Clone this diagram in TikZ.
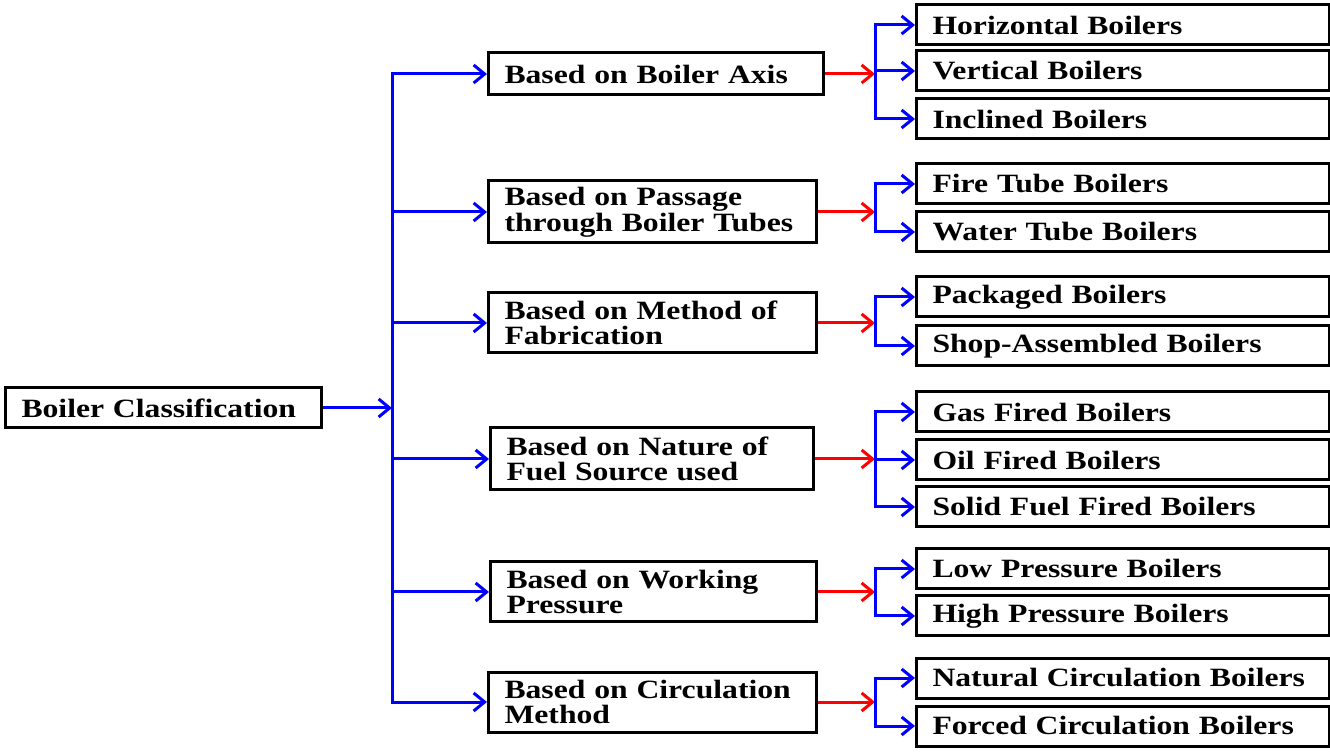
\documentclass[tikz,border=0pt]{standalone}
\usepackage{fontspec}
\setmainfont{Liberation Serif}[FakeStretch=1.2]
\usetikzlibrary{arrows.meta}
\begin{document}
\begin{tikzpicture}[x=0.5pt,y=-0.5pt,
  box/.style={draw=black, line width=1.5pt, rectangle, inner xsep=8pt, inner ysep=0pt,
    font=\fontsize{13.2}{12.8}\selectfont\bfseries, align=left, anchor=west},
  rootbox/.style={box, text width=142pt, minimum height=20pt},
  midbox/.style={box, text width=148pt},
  leafbox/.style={box, text width=190.5pt, minimum height=20pt},
  barrow/.style={draw=blue, line width=1.5pt, -{Straight Barb[length=5.5pt,width=9pt,line width=1.5pt]}},
  rarrow/.style={draw=red, line width=1.5pt, -{Straight Barb[length=5.5pt,width=9pt,line width=1.5pt]}},
  bline/.style={draw=blue, line width=1.5pt}
]
\useasboundingbox (0,0) rectangle (1330,754);

\node[rootbox] (root) at (4,408) {Boiler Classification};

\node[midbox, text width=151.5pt, minimum height=21pt] (m1) at (487,74) {Based on Boiler Axis};
\node[midbox, minimum height=31pt] (m2) at (487,212) {Based on Passage\\through Boiler Tubes};
\node[midbox, minimum height=30pt] (m3) at (487,323) {Based on Method of\\Fabrication};
\node[midbox, text width=145.5pt, minimum height=31pt] (m4) at (489,459) {Based on Nature of\\Fuel Source used};
\node[midbox, text width=147pt, minimum height=30pt] (m5) at (489,592) {Based on Working\\Pressure};
\node[midbox, minimum height=30pt] (m6) at (487,702) {Based on Circulation\\Method};

\node[leafbox] (l1) at (915,25) {Horizontal Boilers};
\node[leafbox] (l2) at (915,71) {Vertical Boilers};
\node[leafbox] (l3) at (915,119) {Inclined Boilers};
\node[leafbox] (l4) at (915,184) {Fire Tube Boilers};
\node[leafbox] (l5) at (915,232) {Water Tube Boilers};
\node[leafbox] (l6) at (915,297) {Packaged Boilers};
\node[leafbox] (l7) at (915,346) {Shop-Assembled Boilers};
\node[leafbox] (l8) at (915,412) {Gas Fired Boilers};
\node[leafbox] (l9) at (915,460) {Oil Fired Boilers};
\node[leafbox] (l10) at (915,507) {Solid Fuel Fired Boilers};
\node[leafbox] (l11) at (915,569) {Low Pressure Boilers};
\node[leafbox] (l12) at (915,616) {High Pressure Boilers};
\node[leafbox] (l13) at (915,678) {Natural Circulation Boilers};
\node[leafbox] (l14) at (915,726) {Forced Circulation Boilers};

% trunk
\coordinate (trunk) at (392,408);
\coordinate (ttop) at (392,74);
\coordinate (tbot) at (392,702);
\draw[bline] (ttop) -- (tbot);
\draw[barrow] (root.east) -- (trunk);
\foreach \m in {m1,m2,m3,m4,m5,m6} \draw[barrow] (trunk) |- (\m.west);

% junctions
\coordinate (j1) at (875,74);
\coordinate (j2) at (875,212);
\coordinate (j3) at (875,323);
\coordinate (j4) at (875,459);
\coordinate (j5) at (875,592);
\coordinate (j6) at (875,702);
\foreach \m/\j in {m1/j1,m2/j2,m3/j3,m4/j4,m5/j5,m6/j6} \draw[rarrow] (\m.east) -- (\j);

\foreach \j/\l in {j1/l1,j1/l2,j1/l3,j2/l4,j2/l5,j3/l6,j3/l7,j4/l8,j4/l9,j4/l10,j5/l11,j5/l12,j6/l13,j6/l14}
  \draw[barrow] (\j) |- (\l.west);
\end{tikzpicture}
\end{document}
